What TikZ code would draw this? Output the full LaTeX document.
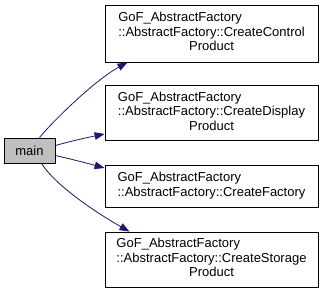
\documentclass[tikz,border=0pt]{standalone}
\usepackage{fontspec}
\setmainfont{Liberation Sans}
\usetikzlibrary{arrows.meta}
\begin{document}
\begin{tikzpicture}[x=1pt,y=-1pt,
  fn/.style={draw=black, line width=0.8pt, fill=white, inner sep=0pt,
    font=\fontsize{13}{14.5}\selectfont, minimum width=213pt},
  root/.style={draw=black, line width=0.8pt, fill=black!25, inner sep=0pt,
    font=\fontsize{13}{14.5}\selectfont, minimum width=51pt, minimum height=25pt},
  call/.style={draw=midnightblue, line width=0.8pt,
    -{Triangle[length=10pt,width=7.5pt]}}]
\definecolor{midnightblue}{HTML}{191970}
\useasboundingbox (0,0) rectangle (324,293);
\node[root] (main) at (29.5,150.5) {main};
\node[fn, minimum height=57pt] (b1) at (211.5,33.5)
  {\begin{tabular}{@{}l@{}}GoF\_AbstractFactory\\::AbstractFactory::CreateControl\\\multicolumn{1}{@{}c@{}}{Product}\end{tabular}};
\node[fn, minimum height=55pt] (b2) at (211.5,113)
  {\begin{tabular}{@{}l@{}}GoF\_AbstractFactory\\::AbstractFactory::CreateDisplay\\\multicolumn{1}{@{}c@{}}{Product}\end{tabular}};
\node[fn, minimum height=42pt] (b3) at (211.5,186)
  {\begin{tabular}{@{}l@{}}GoF\_AbstractFactory\\::AbstractFactory::CreateFactory\end{tabular}};
\node[fn, minimum height=55pt] (b4) at (211.5,259.5)
  {\begin{tabular}{@{}l@{}}GoF\_AbstractFactory\\::AbstractFactory::CreateStorage\\\multicolumn{1}{@{}c@{}}{Product}\end{tabular}};
\draw[call] ([xshift=10pt]main.north) .. controls (52,122) and (95,80) .. ([xshift=-84pt]b1.south);
\draw[call] ([yshift=5pt]main.east) .. controls (75,140) and (90,137) .. ([yshift=-21pt]b2.west);
\draw[call] ([yshift=-5pt]main.east) .. controls (75,160) and (90,164) .. ([yshift=18pt]b3.west);
\draw[call] ([xshift=12pt]main.south) .. controls (55,185) and (95,212) .. ([xshift=-82pt]b4.north);
\end{tikzpicture}
\end{document}
